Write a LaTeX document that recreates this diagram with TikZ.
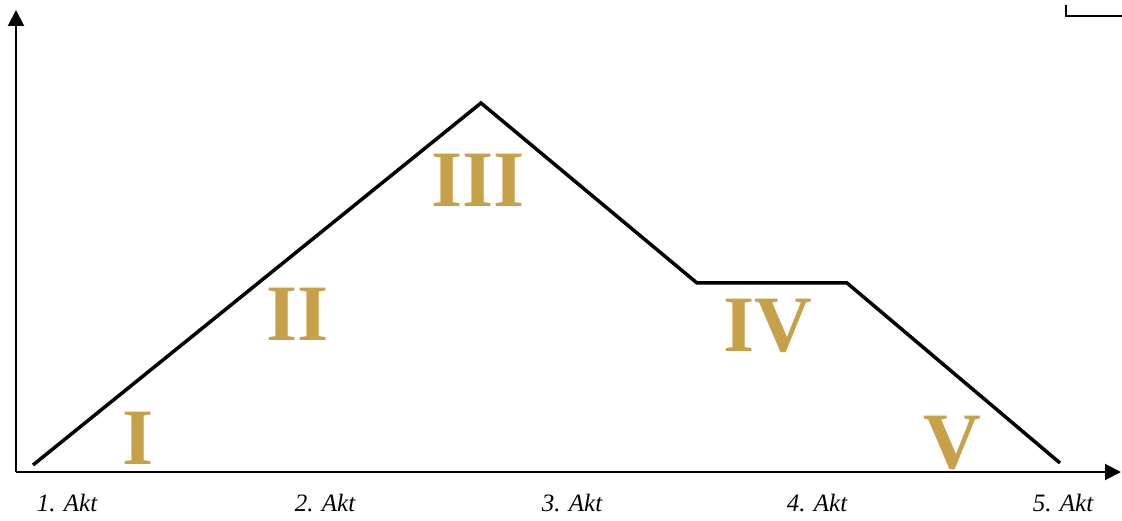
\documentclass[tikz,border=0pt]{standalone}
\usepackage{fontspec}
\setmainfont{Liberation Serif}
\usepackage{xcolor}
\definecolor{gold}{HTML}{C7A04A}
\definecolor{ink}{HTML}{000000}
\usepackage{tikz}
\usetikzlibrary{arrows.meta,positioning}

\begin{document}
\begin{tikzpicture}[x=1pt,y=-1pt,
    akt/.style={font=\fontsize{25}{25}\selectfont\itshape,text=ink},
    numeral/.style={font=\fontsize{80}{80}\selectfont\bfseries,text=gold}]
  \useasboundingbox (0,0) rectangle (1122,521);
  % achsen
  \coordinate (o) at (16,472);
  \coordinate (ytop) at (16,10);
  \coordinate (xend) at (1121,472);
  \draw[line width=2pt,-{Triangle[length=16pt,width=16pt]}] (o) -- (ytop);
  \draw[line width=2pt,-{Triangle[length=16pt,width=16pt]}] (o) -- (xend);
  % ecke oben rechts
  \coordinate (c1) at (1066,5);
  \coordinate (c2) at (1066,16);
  \coordinate (c3) at (1122,16);
  \draw[line width=2pt] (c1) -- (c2) -- (c3);
  % spannungskurve
  \coordinate (p1) at (33,465);
  \coordinate (p2) at (481,103);
  \coordinate (p3) at (697,283);
  \coordinate (p4) at (847,283);
  \coordinate (p5) at (1060,463);
  \draw[line width=3.5pt,line join=miter] (p1) -- (p2) -- (p3) -- (p4) -- (p5);
  % akte
  \foreach \x/\lab [count=\i] in {67/1. Akt,325/2. Akt,572/3. Akt,817/4. Akt,1063/5. Akt}
     \node[akt] (akt\i) at (\x,503) {\lab};
  % phasen
  \node[numeral] (n1) at (138,438) {I};
  \node[numeral] (n2) at (298,314) {II};
  \node[numeral] (n3) at (478,180) {III};
  \node[numeral] (n4) at (768,326) {IV};
  \node[numeral] (n5) at (952,443) {V};
\end{tikzpicture}
\end{document}
